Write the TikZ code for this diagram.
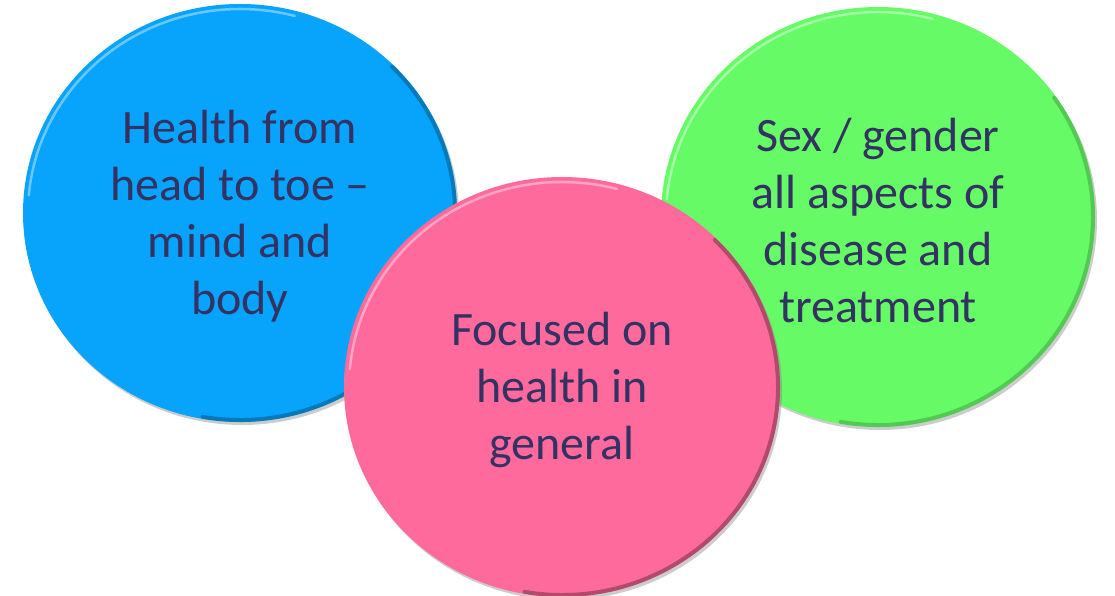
\documentclass[tikz,border=0pt]{standalone}
\usepackage{fontspec}
\setmainfont{Carlito}
\usetikzlibrary{shapes.geometric,shadows}
\definecolor{bluefill}{RGB}{8,163,250}
\definecolor{greenfill}{RGB}{102,250,102}
\definecolor{pinkfill}{RGB}{255,106,156}
\definecolor{textcol}{RGB}{52,50,98}
\tikzset{
  bubble/.style={ellipse, inner sep=0pt, align=center, text=textcol,
    font=\fontsize{48}{57}\selectfont,
    drop shadow={shadow xshift=2pt, shadow yshift=-3pt, opacity=0.4}},
  rim/.style={line width=4pt, opacity=0.55, line cap=round},
  gloss/.style={line width=2.5pt, white, opacity=0.4, line cap=round}
}
\begin{document}
\begin{tikzpicture}[x=1pt,y=1pt]
\useasboundingbox (0,0) rectangle (1115,595);
% Drawing the blue circle
\node [bubble, fill=bluefill, minimum width=434pt, minimum height=418pt] (body) at (240,382)
  {\strut Health from\\head to toe --\\mind and\\body};
\draw [rim, bluefill!55!black] (body.center) ++(-100:215pt and 207pt)
  arc [start angle=-100, end angle=45, x radius=215pt, y radius=207pt];
\draw [gloss] (body.center) ++(75:212pt and 204pt)
  arc [start angle=75, end angle=175, x radius=212pt, y radius=204pt];

% Drawing the green circle
\node [bubble, fill=greenfill, minimum width=434pt, minimum height=420pt] (sex) at (878,378)
  {\strut Sex / gender\\all aspects of\\disease and\\treatment};
\draw [rim, greenfill!65!black] (sex.center) ++(-100:215pt and 208pt)
  arc [start angle=-100, end angle=35, x radius=215pt, y radius=208pt];
\draw [gloss] (sex.center) ++(75:212pt and 205pt)
  arc [start angle=75, end angle=175, x radius=212pt, y radius=205pt];

% Drawing the pink circle
\node [bubble, fill=pinkfill, minimum width=436pt, minimum height=420pt] (general) at (562,208)
  {\strut Focused on\\health in\\general};
\draw [rim, pinkfill!45!black] (general.center) ++(-100:216pt and 208pt)
  arc [start angle=-100, end angle=45, x radius=216pt, y radius=208pt];
\draw [gloss] (general.center) ++(75:213pt and 205pt)
  arc [start angle=75, end angle=175, x radius=213pt, y radius=205pt];
\end{tikzpicture}
\end{document}
